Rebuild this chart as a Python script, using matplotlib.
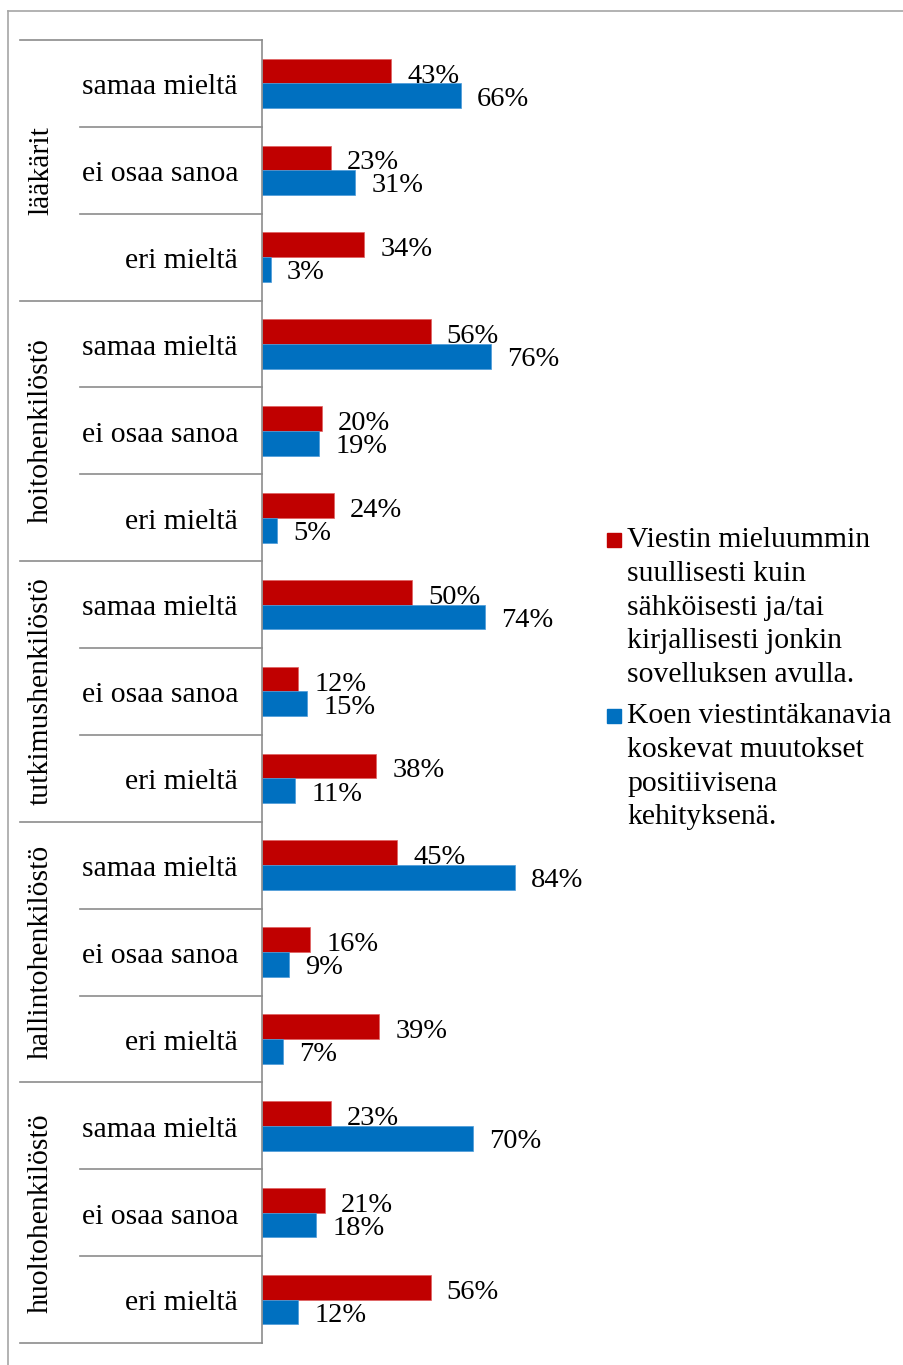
import matplotlib
matplotlib.use("Agg")
import matplotlib.pyplot as plt
from matplotlib.patches import Rectangle
from matplotlib.lines import Line2D
from matplotlib.transforms import blended_transform_factory

plt.rcParams['font.family'] = ['Liberation Serif', 'DejaVu Serif']

groups = ["lääkärit", "hoitohenkilöstö", "tutkimushenkilöstö",
          "hallintohenkilöstö", "huoltohenkilöstö"]
answers = ["samaa mieltä", "ei osaa sanoa", "eri mieltä"]

# percentages per group, in the order of `answers`
prefer_oral = [
    [43, 23, 34],
    [56, 20, 24],
    [50, 12, 38],
    [45, 16, 39],
    [23, 21, 56],
]
positive_change = [
    [66, 31, 3],
    [76, 19, 5],
    [74, 15, 11],
    [84, 9, 7],
    [70, 18, 12],
]

series_labels = [
    "Viestin mieluummin\nsuullisesti kuin\nsähköisesti ja/tai\nkirjallisesti jonkin\nsovelluksen avulla.",
    "Koen viestintäkanavia\nkoskevat muutokset\npositiivisena\nkehityksenä.",
]
red = "#C00000"
blue = "#0070C0"
grid_gray = "#8C8C8C"

W, H = 904, 1365
fig = plt.figure(figsize=(W / 100, H / 100), dpi=100)

def fx(px):
    return px / W

def fy(py):
    return 1 - py / H

ax_left, ax_right = 262, 563
ax_top, ax_bot = 40, 1343
ax = fig.add_axes([fx(ax_left), fy(ax_bot), fx(ax_right - ax_left), (ax_bot - ax_top) / H])

red_vals = [v for g in prefer_oral for v in g]
blue_vals = [v for g in positive_change for v in g]
n = len(red_vals)
centers = [i + 0.5 for i in range(n)]
bh = 0.285

ax.barh([c - bh / 2 for c in centers], red_vals, height=bh, color=red,
        edgecolor="#E06060", linewidth=0.5)
ax.barh([c + bh / 2 for c in centers], blue_vals, height=bh, color=blue,
        edgecolor="#4A9AD8", linewidth=0.5)

fs_val = 20.5
fs = 21.3
off = 5.3
for c, rv, bv in zip(centers, red_vals, blue_vals):
    ax.text(rv + off, c - 0.01, f"{rv}%", fontsize=fs_val, va="baseline", ha="left",
            clip_on=False)
    ax.text(bv + off, c + bh - 0.03, f"{bv}%", fontsize=fs_val, va="baseline", ha="left",
            clip_on=False)

ax.set_xlim(0, 100)
ax.set_ylim(n, 0)
ax.axis("off")

# category axis line
ax.plot([0, 0], [0, n], color=grid_gray, lw=1.2, clip_on=False)

tr = blended_transform_factory(fig.transFigure, ax.transData)
for gi, g in enumerate(groups):
    y0 = gi * len(answers)
    fig.add_artist(Line2D([fx(20), fx(ax_left)], [y0, y0], transform=tr,
                          color=grid_gray, lw=1.2))
    for ai, a in enumerate(answers):
        yy = y0 + ai
        if ai > 0:
            fig.add_artist(Line2D([fx(80), fx(ax_left)], [yy, yy], transform=tr,
                                  color=grid_gray, lw=1.2))
        fig.text(fx(238), yy + 0.5 + 0.125, a, transform=tr, ha="right",
                 va="baseline", fontsize=fs)
    fig.text(fx(41), y0 + 1.5, g, transform=tr, ha="center", va="center",
             rotation=90, fontsize=fs)
fig.add_artist(Line2D([fx(20), fx(ax_left)], [n, n], transform=tr,
                      color=grid_gray, lw=1.2))

# outer frame
fig.add_artist(Line2D([fx(8), fx(8)], [fy(11), fy(H + 5)], transform=fig.transFigure,
                      color="#A6A6A6", lw=1.2))
fig.add_artist(Line2D([fx(8), fx(W + 5)], [fy(11), fy(11)], transform=fig.transFigure,
                      color="#A6A6A6", lw=1.2))

# legend: square marker aligned with the first line, one text per line
line_step = 33.8
legend_entries = [(red, series_labels[0], 547), (blue, series_labels[1], 723)]
for col, lab, base in legend_entries:
    fig.add_artist(Rectangle((fx(607), fy(base)), fx(14), 14 / H,
                             transform=fig.transFigure, color=col))
    for k, line in enumerate(lab.split("\n")):
        fig.text(fx(627), fy(base + k * line_step), line, ha="left",
                 va="baseline", fontsize=fs)

fig.savefig("out.png", dpi=100)
